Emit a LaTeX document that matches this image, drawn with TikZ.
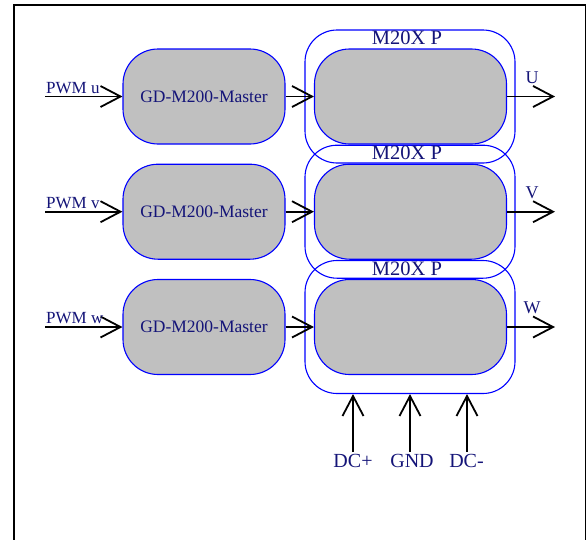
\documentclass[tikz,border=0pt]{standalone}
\usepackage{fontspec}
\setmainfont{Liberation Serif}
\usetikzlibrary{arrows.meta}
\definecolor{txtblue}{RGB}{20,20,120}
\definecolor{boxgray}{RGB}{192,192,192}
\definecolor{edgeblue}{RGB}{0,0,255}
\tikzset{
  gdbox/.style={draw=edgeblue, line width=1.1pt, fill=boxgray, rounded corners=35pt,
    minimum width=162pt, minimum height=95pt, inner sep=0pt, text=txtblue,
    font=\fontsize{17.5}{20}\selectfont},
  innerbox/.style={draw=edgeblue, line width=1.1pt, fill=boxgray, rounded corners=35pt,
    minimum width=192pt, minimum height=95pt, inner sep=0pt},
  outerbox/.style={draw=edgeblue, line width=1.1pt, rounded corners=32pt,
    minimum width=210pt, minimum height=133pt, inner sep=0pt},
  arr/.style={draw=black, line width=1.8pt,
    -{Straight Barb[length=20pt,width=21pt,line width=1.8pt]}},
  lbl/.style={text=txtblue, inner sep=0pt, anchor=base},
  pwmlbl/.style={lbl, anchor=base west, font=\fontsize{17}{20}\selectfont},
  outlbl/.style={lbl, font=\fontsize{18}{20}\selectfont},
  mlbl/.style={lbl, font=\fontsize{20.5}{22}\selectfont},
  dclbl/.style={lbl, font=\fontsize{20}{22}\selectfont}
}
\begin{document}
\begin{tikzpicture}[x=1pt,y=-1pt]
\useasboundingbox (0,0) rectangle (587,539);
\begin{scope}
\clip (0,0) rectangle (587,539);
\draw[line width=1.7pt] (14,560) -- (14,5) -- (585.5,5) -- (585.5,560);
\end{scope}

% outer boxes
\node[outerbox] (o1) at (410,96.5) {};
\node[outerbox] (o2) at (410,211.7) {};
\node[outerbox] (o3) at (410,327) {};

% inner boxes
\node[innerbox] (i1) at (410.5,96.5) {};
\node[innerbox] (i2) at (410.5,211.7) {};
\node[innerbox] (i3) at (410.5,327) {};

% M20X P labels
\node[mlbl] (m1) at (407,44.5) {M20X P};
\node[mlbl] (m2) at (407,159.7) {M20X P};
\node[mlbl] (m3) at (407,275) {M20X P};

% GD boxes
\node[gdbox] (g1) at (204,96.5) {GD-M200-Master};
\node[gdbox] (g2) at (204,211.7) {GD-M200-Master};
\node[gdbox] (g3) at (204,327) {GD-M200-Master};

% inputs
\coordinate (in1) at (45,96.5);
\coordinate (in2) at (45,211.7);
\coordinate (in3) at (45,327);
\draw[arr] (in1) -- (g1.west);
\draw[arr] (in2) -- (g2.west);
\draw[arr] (in3) -- (g3.west);
\node[pwmlbl] (p1) at (46,93) {PWM u};
\node[pwmlbl] (p2) at (46,208.2) {PWM v};
\node[pwmlbl] (p3) at (46,323.5) {PWM w};

% middle
\draw[arr] (g1.east) -- (i1.west);
\draw[arr] (g2.east) -- (i2.west);
\draw[arr] (g3.east) -- (i3.west);

% outputs
\coordinate (out1) at (555,96.5);
\coordinate (out2) at (555,211.7);
\coordinate (out3) at (555,327);
\draw[arr] (i1.east) -- (out1);
\draw[arr] (i2.east) -- (out2);
\draw[arr] (i3.east) -- (out3);
\node[outlbl] (u) at (532,83.3) {U};
\node[outlbl] (v) at (532,198.5) {V};
\node[outlbl] (w) at (532,313.8) {W};

% DC inputs
\coordinate (b1) at (353,452);
\coordinate (b2) at (410,452);
\coordinate (b3) at (467,452);
\draw[arr] (b1) -- (b1 |- o3.south);
\draw[arr] (b2) -- (b2 |- o3.south);
\draw[arr] (b3) -- (b3 |- o3.south);
\node[dclbl] (d1) at (353,467.3) {DC+};
\node[dclbl] (d2) at (412,467.3) {GND};
\node[dclbl] (d3) at (466.5,467.3) {DC-};
\end{tikzpicture}
\end{document}
